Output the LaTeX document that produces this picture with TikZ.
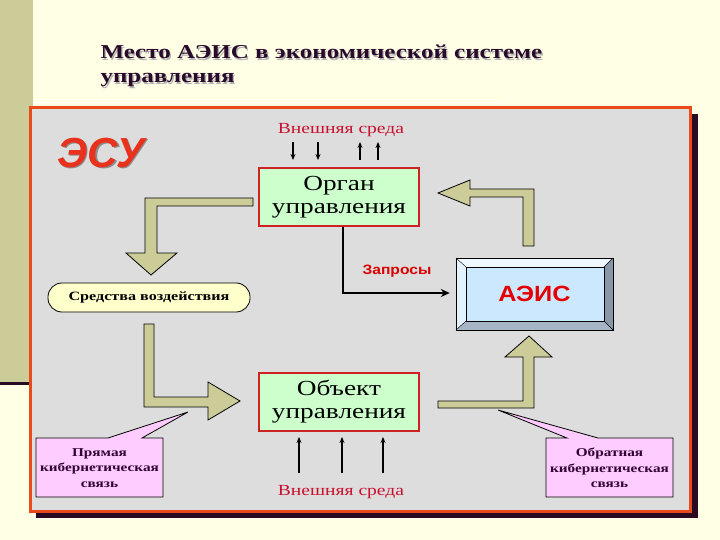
\documentclass[tikz,border=0pt]{standalone}
\usepackage{fontspec}
\setmainfont{Liberation Serif}[FakeStretch=1.27]
\setsansfont{Liberation Sans}[FakeStretch=1.15]
\newfontfamily\esufont{Liberation Sans}
\usetikzlibrary{arrows.meta,calc}
\definecolor{cream}{HTML}{FFFFE6}
\definecolor{strip}{HTML}{CCCC99}
\definecolor{darkline}{HTML}{2A0A22}
\definecolor{boxgray}{HTML}{DDDDDD}
\definecolor{frameor}{HTML}{E84A1A}
\definecolor{khaki}{HTML}{CCCC99}
\definecolor{greenf}{HTML}{CCFFCC}
\definecolor{greenb}{HTML}{CC2222}
\definecolor{crimson}{HTML}{C8102E}
\definecolor{esured}{HTML}{E8321E}
\definecolor{pinkf}{HTML}{FFCCFF}
\definecolor{purp}{HTML}{330033}
\definecolor{titlec}{HTML}{2A0A2A}
\definecolor{lightyel}{HTML}{FFFFCC}
\definecolor{aeisface}{HTML}{CCE8FF}
\definecolor{bevright}{HTML}{8797A8}
\definecolor{bevbot}{HTML}{A5B5C5}
\begin{document}
\begin{tikzpicture}[x=1pt,y=-1pt,
  greenbox/.style={draw=greenb,line width=2.5pt,fill=greenf,minimum width=160pt,minimum height=58pt,inner sep=0pt,align=center,font=\fontsize{21.5}{23}\selectfont},
  fatarrow/.style={fill=khaki,draw=black,line width=0.8pt,line join=miter},
  smallarrow/.style={line width=1.4pt,-{Stealth[length=6pt,width=5pt]}},
  callout/.style={fill=pinkf,draw=black,line width=0.8pt},
  callouttext/.style={align=center,text=purp,inner sep=0pt,font=\bfseries\fontsize{12}{15.5}\selectfont},
  envtext/.style={text=crimson,font=\fontsize{15.4}{18}\selectfont},
  titletext/.style={anchor=base west,font=\bfseries\fontsize{19.7}{24}\selectfont}
]
\useasboundingbox (0,0) rectangle (720,540);
\fill[cream] (0,0) rectangle (720,540);
\fill[strip] (0,0) rectangle (33,382);
\fill[darkline] (0,382) rectangle (33,385);
\draw[white,line width=1pt] (33,103) -- (500,103);
% title
\node[titletext,text=black!30] at (98.3,60.3) {Место АЭИС в экономической системе};
\node[titletext,text=black!30] at (98.3,84.3) {управления};
\node[titletext,text=titlec] (title1) at (97,59) {Место АЭИС в экономической системе};
\node[titletext,text=titlec] (title2) at (97,83) {управления};
% main frame
\fill[darkline] (36,114) rectangle (698,518);
\draw[frameor,line width=3pt,fill=boxgray] (30,108) rectangle (690,511);
% ESU
\node[text=black!45,font=\esufont\bfseries\itshape\fontsize{42}{44}\selectfont] at (102.5,154.5) {ЭСУ};
\node[text=esured,font=\esufont\bfseries\itshape\fontsize{42}{44}\selectfont] (esu) at (101,153) {ЭСУ};
% top environment
\node[envtext] (envtop) at (341,130) {Внешняя среда};
\node[greenbox] (organ) at (339,197) {Орган\\управления};
\coordinate (d1s) at (293,142); \coordinate (d1e) at (293,160);
\coordinate (d2s) at (318,142); \coordinate (d2e) at (318,160);
\coordinate (u1s) at (360,160); \coordinate (u1e) at (360,142);
\coordinate (u2s) at (378,160); \coordinate (u2e) at (378,142);
\draw[smallarrow] (d1s) -- (d1e);
\draw[smallarrow] (d2s) -- (d2e);
\draw[smallarrow] (u1s) -- (u1e);
\draw[smallarrow] (u2s) -- (u2e);
% sredstva
\node[draw=black,line width=0.8pt,fill=lightyel,rounded corners=14pt,minimum width=202pt,minimum height=29pt,inner sep=0pt,font=\bfseries\fontsize{12.7}{15}\selectfont] (sredstva) at (149,297.5) {Средства воздействия};
% AEIS bevel box
\fill[white!70!aeisface] (456,258) -- (613,258) -- (604,267) -- (466,267) -- cycle;
\fill[white!45!aeisface] (456,258) -- (466,267) -- (466,321) -- (456,330) -- cycle;
\fill[bevright] (613,258) -- (613,330) -- (604,321) -- (604,267) -- cycle;
\fill[bevbot] (456,330) -- (466,321) -- (604,321) -- (613,330) -- cycle;
\fill[aeisface] (466,267) rectangle (604,321);
\draw[black,line width=0.6pt] (456,258) rectangle (613,330);
\draw[black,line width=0.5pt] (466,267) rectangle (604,321);
\draw[black,line width=0.4pt] (456,258) -- (466,267) (613,258) -- (604,267) (456,330) -- (466,321) (613,330) -- (604,321);
\node[minimum width=157pt,minimum height=72pt,text=red!90!black,font=\sffamily\bfseries\fontsize{22}{24}\selectfont] (aeis) at (534.5,294) {АЭИС};
% zaprosy
\node[text=red!85!black,font=\sffamily\bfseries\fontsize{13.6}{15}\selectfont] (zapr) at (397,271) {Запросы};
\draw[line width=2.4pt,-{Stealth[length=9pt,width=8pt]}] ([xshift=4pt]organ.south) |- ([xshift=-6pt,yshift=1pt]aeis.west);
% object
\node[greenbox] (object) at (339,402) {Объект\\управления};
\node[envtext] (envbot) at (341,492) {Внешняя среда};
\coordinate (b1s) at (299,473); \coordinate (b1e) at (299,437);
\coordinate (b2s) at (342,473); \coordinate (b2e) at (342,437);
\coordinate (b3s) at (383,473); \coordinate (b3e) at (383,437);
\draw[smallarrow] (b1s) -- (b1e);
\draw[smallarrow] (b2s) -- (b2e);
\draw[smallarrow] (b3s) -- (b3e);
% fat arrows
\draw[fatarrow] (253,198) -- (145,198) -- (145,253) -- (126,253) -- (151,275) -- (177,253) -- (157,253) -- (157,206) -- (253,206) -- cycle;
\draw[fatarrow] (523,246) -- (534,246) -- (534,189) -- (470,189) -- (470,180) -- (438,193) -- (470,206) -- (470,197) -- (523,197) -- cycle;
\draw[fatarrow] (144,324) -- (154,324) -- (154,397) -- (208,397) -- (208,382) -- (240,401) -- (208,420) -- (208,407) -- (144,407) -- cycle;
\draw[fatarrow] (438,401) -- (523,401) -- (523,357) -- (505,357) -- (529,336) -- (552,357) -- (534,357) -- (534,408) -- (438,408) -- cycle;
% callouts
\draw[callout] (36,438) -- (108,438) -- (188,412) -- (142,438) -- (163,438) -- (163,497) -- (36,497) -- cycle;
\node[callouttext] (cb1) at (99.5,468) {Прямая\\кибернетическая\\связь};
\draw[callout] (546,438) -- (567,438) -- (498,410) -- (598,438) -- (673,438) -- (673,497) -- (546,497) -- cycle;
\node[callouttext] (cb2) at (609.5,468) {Обратная\\кибернетическая\\связь};
\end{tikzpicture}
\end{document}
